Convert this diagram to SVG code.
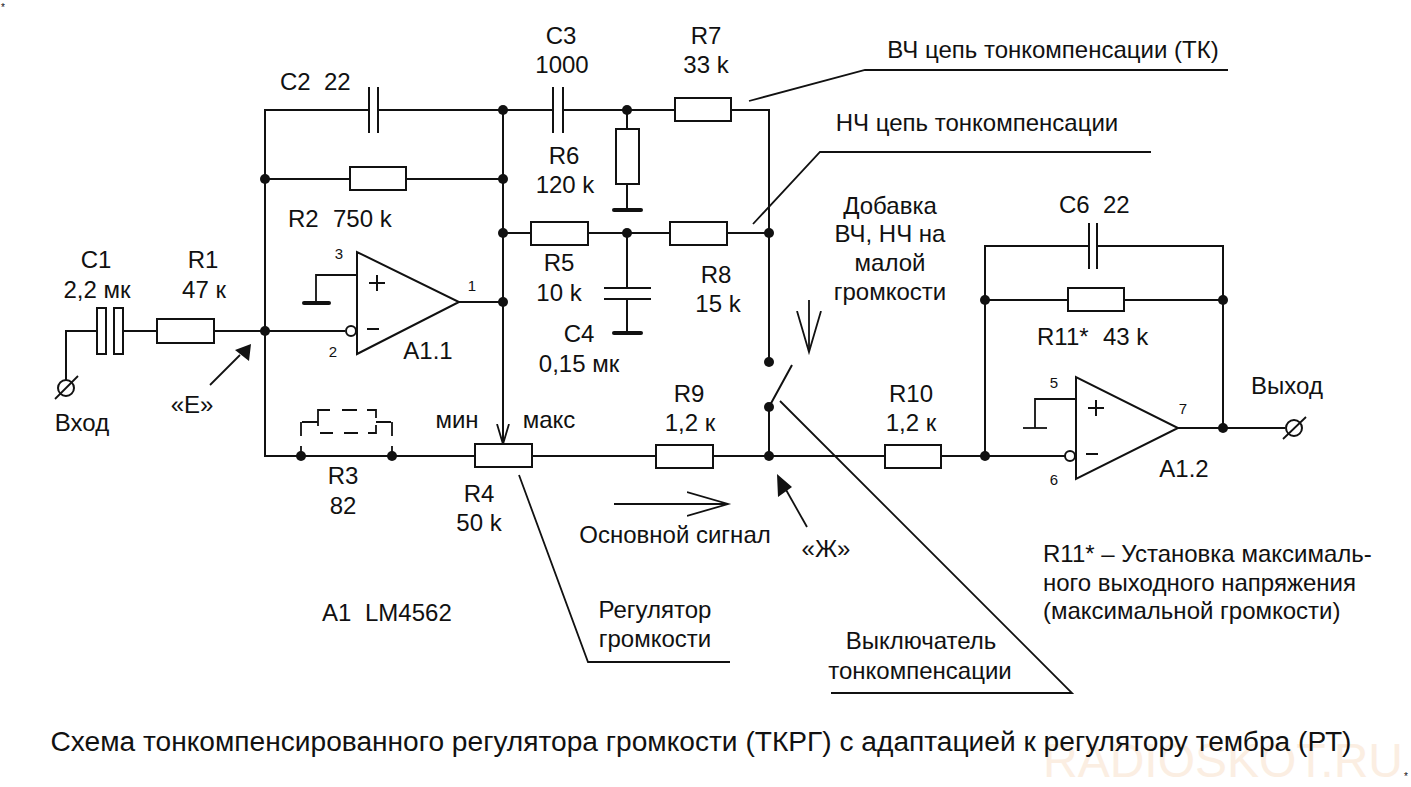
<svg xmlns="http://www.w3.org/2000/svg" width="1411" height="787" viewBox="0 0 1411 787">
<style>
text{font-family:"Liberation Sans",Arial,sans-serif;font-size:24px;fill:#111}
.m{text-anchor:middle}
.s{font-size:15px}
.w{fill:none;stroke:#111;stroke-width:2}
.t{fill:none;stroke:#111;stroke-width:1.8}
.r{fill:#fff;stroke:#111;stroke-width:2}
.d{fill:#111;stroke:none}
.g{fill:none;stroke:#111;stroke-width:4;stroke-linecap:round}
</style>
<defs>
<circle id="dot" r="5" class="d"/>
<marker id="open-large" markerWidth="46" markerHeight="28" refX="41" refY="13" orient="auto" markerUnits="userSpaceOnUse"><path d="M0 1L41 13L0 25" fill="none" stroke="#111" stroke-width="1.8"/></marker>
<marker id="open-small" markerWidth="24" markerHeight="16" refX="20" refY="7" orient="auto" markerUnits="userSpaceOnUse"><path d="M0 1L20 7L0 13" fill="none" stroke="#111" stroke-width="1.8"/></marker>
</defs>
<rect width="1411" height="787" fill="#fff"/>
<text x="1" y="11" style="font-size:10px">*</text>
<text x="1404" y="780" style="font-size:10px">*</text>
<text x="1223" y="777" class="m" style="font-size:48px;fill:#fbeee2">RADIOSKOT.RU</text>
<g id="connectors">
<path class="w" d="M66 380V331H97M122 331H156M214 331H345M265 331V110H369M378 110H553M563 110H675M731 110H769V362"/>
<path class="w" d="M265 331V456H475M533 456H656M713 456H885M941 456H1065"/>
<path class="w" d="M265 179H350M406 179H503M503 110V443"/>
<path class="w" d="M459 302H503M503 233H531M588 233H670M727 233H769"/>
<path class="w" d="M627 110V129M627 184V211M627 233V288M627 299V333"/>
<path class="t" d="M357 275H316V303"/>
<path class="w" d="M769 407L792 365M769 407V456"/>
<path class="w" d="M985 456V246H1089M1097 246H1223V428M985 300H1068M1124 300H1223"/>
<path class="t" d="M1076 399H1035V428"/>
<path class="w" d="M1178 428H1285"/>
<path class="t" d="M301 456V446M301 436V422M392 456V446M392 436V422M302 422H318M318 426V410H330M342 410H357M367 410H376V418M320 433H333M344 433H358M368 433H376V425M376 422H391"/>
<path class="t" d="M749 101L865 70H1228M753 224L820 152H1151M780 401L1072 693H831M519 475L588 662H730"/>
<path class="t" d="M614 504H728" marker-end="url(#open-large)"/>
<path class="t" d="M809 300V352" marker-end="url(#open-large)"/>
<path class="t" d="M503 420V444" marker-end="url(#open-small)"/>
<path class="t" d="M210 385L240 355"/>
<path class="t" d="M807 527L785 488"/>
<path class="d" d="M251 344L235 350L249 361ZM777 474L778 497L792 487Z"/>
</g>
<g id="C1"><rect class="r" x="97" y="308" width="9" height="46"/><rect class="r" x="114" y="308" width="9" height="46"/><text x="96" y="268" class="m">C1</text><text x="97" y="298" class="m">2,2 мк</text></g>
<g id="R1"><rect class="r" x="157" y="319" width="57" height="24"/><text x="203" y="268" class="m">R1</text><text x="204" y="298" class="m">47 к</text></g>
<g id="Input"><circle cx="66" cy="388" r="8" fill="none" stroke="#111" stroke-width="2"/><path class="t" d="M55 399L78 376"/><text x="82" y="431" class="m">Вход</text></g>
<g id="E"><text x="192" y="413" class="m">«Е»</text></g>
<g id="C2"><path class="w" d="M369 87V133M378 87V133"/><text x="280" y="90">C2</text><text x="324" y="90">22</text></g>
<g id="R2"><rect class="r" x="350" y="167" width="56" height="23"/><text x="288" y="227">R2</text><text x="333" y="227">750 k</text></g>
<g id="A1.1"><path class="r" d="M357 252V354L459 302Z"/><circle cx="351" cy="331" r="5" class="r"/><path class="w" d="M369 283H385M377 275V291M367 329H379"/><path class="g" d="M304 303H329"/><text x="339" y="259" class="m s">3</text><text x="333" y="357" class="m s">2</text><text x="472" y="291" class="m s">1</text><text x="428" y="359" class="m">A1.1</text></g>
<g id="R3"><text x="343" y="484" class="m">R3</text><text x="343" y="514" class="m">82</text></g>
<g id="R4"><rect class="r" x="475" y="444" width="57" height="23"/><text x="457" y="428" class="m">мин</text><text x="549" y="428" class="m">макс</text><text x="479" y="502" class="m">R4</text><text x="479" y="531" class="m">50 k</text></g>
<g id="C3"><path class="w" d="M553 87V133M563 87V133"/><text x="561" y="44" class="m">C3</text><text x="562" y="73" class="m">1000</text></g>
<g id="R7"><rect class="r" x="675" y="98" width="56" height="23"/><text x="706" y="44" class="m">R7</text><text x="706" y="73" class="m">33 k</text></g>
<g id="R6"><rect class="r" x="616" y="129" width="23" height="55"/><path class="g" d="M614 210H641"/><text x="564" y="164" class="m">R6</text><text x="565" y="193" class="m">120 k</text></g>
<g id="R5"><rect class="r" x="531" y="222" width="57" height="23"/><text x="559" y="271" class="m">R5</text><text x="559" y="301" class="m">10 k</text></g>
<g id="R8"><rect class="r" x="670" y="222" width="57" height="23"/><text x="716" y="283" class="m">R8</text><text x="718" y="312" class="m">15 k</text></g>
<g id="C4"><path class="w" d="M604 288H651M604 299H651"/><path class="g" d="M614 333H641"/><text x="579" y="342" class="m">C4</text><text x="579" y="372" class="m">0,15 мк</text></g>
<g id="R9"><rect class="r" x="656" y="445" width="57" height="23"/><text x="689" y="402" class="m">R9</text><text x="690" y="431" class="m">1,2 к</text></g>
<g id="R10"><rect class="r" x="885" y="445" width="56" height="23"/><text x="911" y="402" class="m">R10</text><text x="911" y="431" class="m">1,2 к</text></g>
<g id="C6"><path class="w" d="M1089 223V269M1097 223V269"/><text x="1059" y="213">C6</text><text x="1103" y="213">22</text></g>
<g id="R11"><rect class="r" x="1068" y="288" width="56" height="23"/><text x="1037" y="345">R11*</text><text x="1103" y="345">43 k</text></g>
<g id="A1.2"><path class="r" d="M1076 377V479L1178 428Z"/><circle cx="1070" cy="456" r="5" class="r"/><path class="w" d="M1088 408H1104M1096 400V416M1086 454H1098"/><path class="t" d="M1023 428H1047"/><text x="1054" y="388" class="m s">5</text><text x="1054" y="485" class="m s">6</text><text x="1183" y="414" class="m s">7</text><text x="1184" y="477" class="m">A1.2</text></g>
<g id="Output"><circle cx="1294" cy="428" r="8" fill="none" stroke="#111" stroke-width="2"/><path class="t" d="M1283 439L1306 417"/><text x="1287" y="394" class="m">Выход</text></g>
<g id="junctions">
<use href="#dot" x="265" y="331"/><use href="#dot" x="265" y="179"/><use href="#dot" x="503" y="110"/><use href="#dot" x="503" y="179"/><use href="#dot" x="503" y="233"/><use href="#dot" x="503" y="302"/><use href="#dot" x="627" y="110"/><use href="#dot" x="627" y="233"/><use href="#dot" x="769" y="233"/><use href="#dot" x="769" y="362"/><use href="#dot" x="769" y="407"/><use href="#dot" x="769" y="456"/><use href="#dot" x="301" y="456"/><use href="#dot" x="392" y="456"/><use href="#dot" x="985" y="456"/><use href="#dot" x="985" y="300"/><use href="#dot" x="1223" y="300"/><use href="#dot" x="1223" y="428"/>
</g>
<g id="labels">
<text x="1053" y="58" class="m">ВЧ цепь тонкомпенсации (ТК)</text>
<text x="977" y="131" class="m">НЧ цепь тонкомпенсации</text>
<text x="890" y="214" class="m">Добавка</text>
<text x="890" y="242" class="m">ВЧ, НЧ на</text>
<text x="890" y="271" class="m">малой</text>
<text x="890" y="300" class="m">громкости</text>
<text x="675" y="543" class="m">Основной сигнал</text>
<text x="826" y="557" class="m">«Ж»</text>
<text x="322" y="621">A1</text><text x="365" y="621">LM4562</text>
<text x="655" y="618" class="m">Регулятор</text>
<text x="655" y="647" class="m">громкости</text>
<text x="921" y="649" class="m">Выключатель</text>
<text x="920" y="679" class="m">тонкомпенсации</text>
<text x="1043" y="562">R11* – Установка максималь-</text>
<text x="1043" y="591">ного выходного напряжения</text>
<text x="1043" y="619">(максимальной громкости)</text>
<text x="701" y="751" class="m" style="font-size:28.13px">Схема тонкомпенсированного регулятора громкости (ТКРГ) с адаптацией к регулятору тембра (РТ)</text>
</g>
</svg>
